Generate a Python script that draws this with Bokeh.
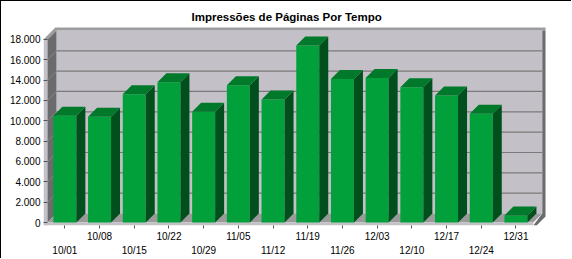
from bokeh.plotting import figure
from bokeh.models import Range1d, FixedTicker, LinearAxis
from bokeh.embed import file_html
from bokeh.resources import INLINE

# ---- data ----
dates = ["10/01", "10/08", "10/15", "10/22", "10/29", "11/05", "11/12",
         "11/19", "11/26", "12/03", "12/10", "12/17", "12/24", "12/31"]
views = [10500, 10400, 12600, 13800, 10900, 13500, 12100,
         17400, 14100, 14200, 13300, 12500, 10700, 700]
y_ticks = [0, 2000, 4000, 6000, 8000, 10000, 12000, 14000, 16000, 18000]
y_labels = ["0", "2.000", "4.000", "6.000", "8.000", "10.000", "12.000",
            "14.000", "16.000", "18.000"]
title_text = "Impressões de Páginas Por Tempo"

# ---- geometry (pixels, image coordinates) ----
OFF = 1                     # 1px black border top/left
W, H = 572 - OFF, 259 - OFF
L, R, T, B = 43 - OFF, 547 - OFF, 26 - OFF, 225 - OFF
BASE = 222 - OFF            # pixel row of value 0 on front plane
PX_X = 34.7                 # px per category
PX_Y = 10.17 / 1000.0       # px per view
n = len(dates)
X0, X1 = -0.5, n - 0.5
x_start = X0 - (47 - 43) / PX_X
x_end = x_start + (R - L) / PX_X
y_start = -(B - BASE) / PX_Y
y_end = y_start + (B - T) / PX_Y
DX = 9 / PX_X
DY = 9 / PX_Y
TX = 4 / PX_X
TY = 3 / PX_Y
TOPV = y_ticks[-1]
BW = 23 / PX_X
hw = BW / 2

p = figure(width=W, height=H, x_range=Range1d(x_start, x_end),
           y_range=Range1d(y_start, y_end), output_backend="svg",
           toolbar_location=None, x_axis_location=None, y_axis_location=None,
           min_border_left=L, min_border_right=W - R, min_border_top=T,
           min_border_bottom=H - B, background_fill_color="white",
           border_fill_color="white", outline_line_color=None)
p.xgrid.visible = False
p.ygrid.visible = False
p.styles = {"border-top": "1px solid black", "border-left": "1px solid black"}

p.title.text = title_text
p.title.align = "left"
p.title.offset = 191 - OFF - L
p.title.text_font = "Liberation Sans"
p.title.text_font_size = "11.5px"
p.title.text_font_style = "bold"
p.title.text_color = "black"
p.title.vertical_align = "middle"
p.title.standoff = 5

WALL = "#c3c1c7"
SIDE = "#6b6b6e"
RIM = "#9d9d9f"
FLOOR = "#9a9a9a"
GRID = "#7a7a7a"

# left wall thickness strip
p.quad(left=[x_start], right=[X0], bottom=[y_start], top=[TOPV], fill_color=WALL, line_color=None)
# back wall
p.quad(left=[X0 + DX], right=[X1 + DX], bottom=[DY], top=[TOPV + DY], fill_color=WALL, line_color=None)
# top rim
p.patch(x=[X0 - TX, X0 + DX - TX * 0.3, X1 + DX + TX * 0.8, X1 + DX + TX * 0.8, X0 + DX, X0],
        y=[TOPV, TOPV + DY + TY, TOPV + DY + TY, TOPV + DY, TOPV + DY, TOPV],
        fill_color=RIM, line_color=None)
# right wall thickness
p.patch(x=[X1 + DX, X1 + DX + TX * 0.8, X1 + DX + TX * 0.8, X1 + TX * 0.8, X1, X1 + DX],
        y=[TOPV + DY, TOPV + DY, DY - TY, -TY, -TY, DY],
        fill_color=SIDE, line_color=None)
# side wall
p.patch(x=[X0, X0, X0 + DX, X0 + DX], y=[0, TOPV, TOPV + DY, DY], fill_color=SIDE, line_color=None)
# floor
p.patch(x=[X0, X1, X1 + DX, X0 + DX], y=[0, 0, DY, DY], fill_color=FLOOR, line_color=None)
# floor front band
p.quad(left=[x_start], right=[X1], bottom=[-TY], top=[0], fill_color=WALL, line_color=None)

# gridlines on back wall and side wall
gv = y_ticks[1:-1]
p.multi_line(xs=[[X0 + DX, X1 + DX] for _ in gv], ys=[[v + DY, v + DY] for v in gv],
             line_color=GRID, line_width=1.2)
p.multi_line(xs=[[X0, X0 + DX] for _ in gv], ys=[[v, v + DY] for v in gv],
             line_color="#858585", line_width=1)

# bars
idx = list(range(n))
p.quad(left=[i - hw for i in idx], right=[i + hw for i in idx], bottom=[0] * n, top=views,
       fill_color="#02a03a", line_color=None)
p.patches(xs=[[i + hw, i + hw, i + hw + DX, i + hw + DX] for i in idx],
          ys=[[0, v, v + DY, DY] for v in views], fill_color="#014f1d", line_color=None)
p.patches(xs=[[i - hw, i + hw, i + hw + DX, i - hw + DX] for i in idx],
          ys=[[v, v, v + DY, v + DY] for v in views], fill_color="#00792b", line_color=None)

FONT = "Liberation Sans"
yax = LinearAxis(ticker=FixedTicker(ticks=y_ticks),
                 major_label_overrides={t: s for t, s in zip(y_ticks, y_labels)},
                 major_tick_in=4, major_tick_out=0, minor_tick_line_color=None,
                 axis_line_color=None, major_tick_line_color="#555555",
                 major_label_standoff=3, major_label_text_font_size="10px",
                 major_label_text_font=FONT, major_label_text_color="black")
p.add_layout(yax, "left")

odd = [i for i in idx if i % 2 == 1]
even = [i for i in idx if i % 2 == 0]
xax1 = LinearAxis(ticker=FixedTicker(ticks=odd, minor_ticks=even),
                  major_label_overrides={i: dates[i] for i in odd},
                  major_tick_in=0, major_tick_out=3, minor_tick_in=0, minor_tick_out=3,
                  major_tick_line_color="#555555", minor_tick_line_color="#555555",
                  axis_line_color=None, major_label_standoff=2,
                  major_label_text_font_size="10px", major_label_text_font=FONT,
                  major_label_text_color="black")
xax2 = LinearAxis(ticker=FixedTicker(ticks=even),
                  major_label_overrides={i: dates[i] for i in even},
                  major_tick_in=0, major_tick_out=0, major_tick_line_color=None,
                  minor_tick_line_color=None, axis_line_color=None, major_label_standoff=0,
                  major_label_text_font_size="10px", major_label_text_font=FONT,
                  major_label_text_color="black")
p.add_layout(xax1, "below")
p.add_layout(xax2, "below")

open("out.html", "w").write(file_html(p, INLINE))
